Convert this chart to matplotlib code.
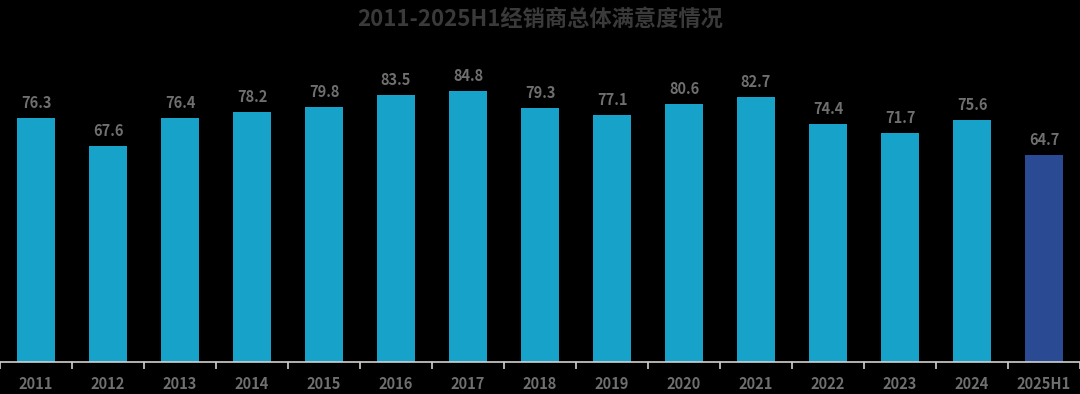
import matplotlib
matplotlib.use("Agg")
import matplotlib.pyplot as plt
import numpy as np

plt.rcParams['font.family'] = ['Noto Sans CJK SC', 'DejaVu Sans']

categories = ["2011", "2012", "2013", "2014", "2015", "2016", "2017", "2018",
              "2019", "2020", "2021", "2022", "2023", "2024", "2025H1"]
values = [76.3, 67.6, 76.4, 78.2, 79.8, 83.5, 84.8, 79.3, 77.1, 80.6, 82.7,
          74.4, 71.7, 75.6, 64.7]
title = "2011-2025H1经销商总体满意度情况"

colors = ["#17A2C9"] * (len(values) - 1) + ["#2A4A93"]

fig = plt.figure(figsize=(10.8, 3.94), dpi=100, facecolor="black")
ax = fig.add_axes([0, 32 / 394, 1, 320 / 394], facecolor="black")

x = np.arange(len(categories))
bars = ax.bar(x, values, width=0.54, color=colors, zorder=2)
for xi, v in zip(x, values):
    ax.annotate(f"{v:.1f}", (xi, v), xytext=(0, 5), textcoords="offset points",
                ha="center", va="bottom", fontsize=10.5, fontweight="heavy",
                color="#6F6F6F")

ax.set_xlim(-0.5, len(categories) - 0.5)
ax.set_ylim(0, 100)
ax.set_yticks([])
for s in ["top", "right", "left"]:
    ax.spines[s].set_visible(False)
ax.spines["bottom"].set_color("#D0D0D0")
ax.spines["bottom"].set_linewidth(1.2)

ax.set_xticks(np.arange(-0.5, len(categories), 1.0))
ax.tick_params(axis="x", which="major", length=5, color="#D0D0D0", width=1.2,
               labelbottom=False)
ax.set_xticks(x, minor=True)
ax.set_xticklabels(categories, minor=True, fontsize=10.5, fontweight="heavy",
                   color="#6F6F6F")
ax.tick_params(axis="x", which="minor", length=0, pad=10)

fig.text(0.5, 1 - 19 / 394, title, ha="center", va="center", fontsize=16,
         fontweight="heavy", color="#3A3A3A")

fig.savefig("out.png", dpi=100, facecolor="black")
